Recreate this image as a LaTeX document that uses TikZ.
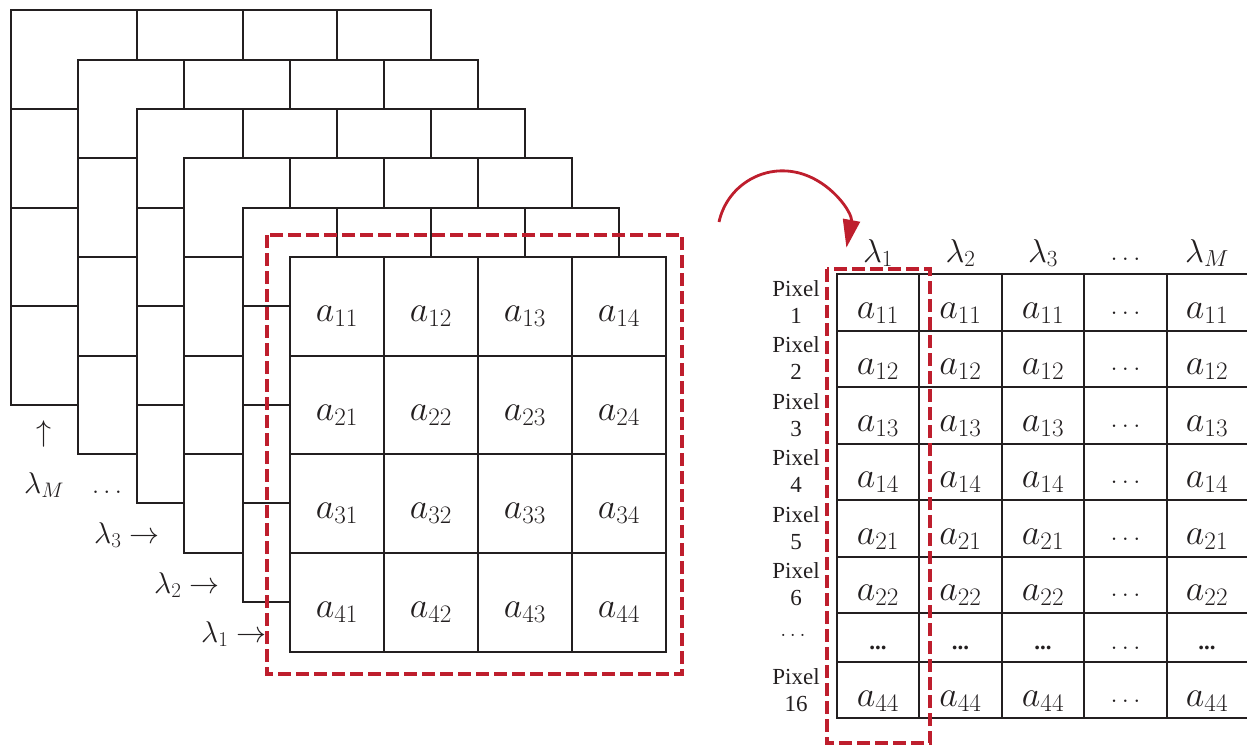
\RequirePackage{fix-cm}
\documentclass[tikz,border=0pt]{standalone}
\usepackage{fontspec}
\setmainfont{Liberation Serif}
\usetikzlibrary{arrows.meta}
\definecolor{ink}{RGB}{35,31,32}
\definecolor{dred}{RGB}{190,30,45}
\begin{document}
\begin{tikzpicture}[x=1pt,y=-1pt,
  layerbox/.style={line width=2pt, draw=ink, fill=white},
  gl/.style={line width=2pt, draw=ink},
  redbox/.style={line width=4pt, draw=dred, dash pattern=on 13pt off 5pt},
  cellm/.style={inner sep=0pt, anchor=base, text=ink, font=\fontsize{36}{40}\selectfont},
  dotm/.style={inner sep=0pt, anchor=base, text=ink, font=\fontsize{26}{30}\selectfont},
  bdot/.style={inner sep=0pt, anchor=base, text=ink, font=\fontsize{23}{27}\selectfont\bfseries},
  hdr/.style={inner sep=0pt, anchor=base, text=ink, font=\fontsize{33}{37}\selectfont},
  lab/.style={inner sep=0pt, text=ink, font=\fontsize{30}{34}\selectfont},
  pix/.style={inner sep=0pt, text=ink, align=center, font=\fontsize{23}{27}\selectfont},
]
\useasboundingbox (0,0) rectangle (1247,745);

% ---- stacked band layers (back to front) ----
% lambda_M
\draw[layerbox] (11,10) rectangle (431,405);
\draw[gl] (137,10)--(137,405) (243,10)--(243,405) (337,10)--(337,405)
          (11,109)--(431,109) (11,208)--(431,208) (11,306)--(431,306);
% next
\draw[layerbox] (78,60) rectangle (478,454);
\draw[gl] (184,60)--(184,454) (290,60)--(290,454) (384,60)--(384,454)
          (78,158)--(478,158) (78,257)--(478,257) (78,356)--(478,356);
% lambda_3
\draw[layerbox] (137,109) rectangle (525,503);
\draw[gl] (243,109)--(243,503) (337,109)--(337,503) (431,109)--(431,503)
          (137,208)--(525,208) (137,306)--(525,306) (137,405)--(525,405);
% lambda_2
\draw[layerbox] (184,158) rectangle (572,553);
\draw[gl] (290,158)--(290,553) (384,158)--(384,553) (478,158)--(478,553)
          (184,257)--(572,257) (184,356)--(572,356) (184,454)--(572,454);
% lambda_1 (back)
\draw[layerbox] (243,208) rectangle (619,602);
\draw[gl] (337,208)--(337,602) (431,208)--(431,602) (525,208)--(525,602)
          (243,306)--(619,306) (243,405)--(619,405) (243,503)--(619,503);
% front
\draw[layerbox] (290,257) rectangle (666,652);
\draw[gl] (384,257)--(384,652) (478,257)--(478,652) (572,257)--(572,652)
          (290,356)--(666,356) (290,454)--(666,454) (290,553)--(666,553);

\foreach \r/\yc in {1/306.5,2/405,3/503.5,4/602}
  \foreach \c/\xc in {1/337,2/431,3/525,4/619}
    \node[cellm] (f\r\c) at (\xc,\yc+15) {$a_{\r\c}$};

\draw[redbox] (267,235) rectangle (682,674);

% ---- left labels ----
\node[lab] (upar) at (44,434) {$\uparrow$};
\node[lab, anchor=base] (lamM) at (44,493) {$\lambda_M$};
\node[dotm] (ldots) at (107,493) {$\ldots$};
\node[lab, anchor=base east] (lam3) at (160,543) {$\lambda_3\rightarrow$};
\node[lab, anchor=base east] (lam2) at (220,593) {$\lambda_2\rightarrow$};
\node[lab, anchor=base east] (lam1) at (267,642) {$\lambda_1\rightarrow$};

% ---- arrow ----
\coordinate (arcS) at (719,222);
\draw[line width=2.8pt, draw=dred, -{Triangle[length=28pt,width=17pt]}]
  (arcS) arc[start angle=192.3, end angle=370.5, radius=65];

% ---- right table ----
\foreach \y in {274,330.5,387,443.5,500,556.5,612.5,662,718}
  \draw[gl] (836,\y) -- (1247,\y);
\foreach \x in {837,919,1002,1084,1167}
  \draw[gl] (\x,273) -- (\x,719);

\node[hdr] (h1) at (878,262) {$\lambda_1$};
\node[hdr] (h2) at (960.5,262) {$\lambda_2$};
\node[hdr] (h3) at (1043,262) {$\lambda_3$};
\node[dotm] (h4) at (1125.5,260) {$\ldots$};
\node[hdr] (h5) at (1207,262) {$\lambda_M$};

\foreach \r/\yc/\s/\p in {1/302/11/1, 2/358.5/12/2, 3/415/13/3, 4/471.5/14/4, 5/528/21/5, 6/584.5/22/6, 8/690/44/16} {
  \foreach \c/\xc in {1/878, 2/960.5, 3/1043, 5/1207}
    \node[cellm] (t\r\c) at (\xc,\yc+16) {$a_{\s}$};
  \node[dotm] (t\r4) at (1125.5,\yc+12) {$\ldots$};
  \node[pix] (p\r) at (796,\yc) {Pixel\\\p};
}
\foreach \c/\xc in {1/878, 2/960.5, 3/1043, 5/1207}
  \node[bdot] (t7\c) at (\xc,649) {...};
\node[dotm] (t74) at (1125.5,649) {$\ldots$};
\node[dotm, font=\fontsize{22}{26}\selectfont] (p7) at (793,636) {$\ldots$};

\draw[redbox] (827,269) rectangle (930,743);
\end{tikzpicture}
\end{document}
